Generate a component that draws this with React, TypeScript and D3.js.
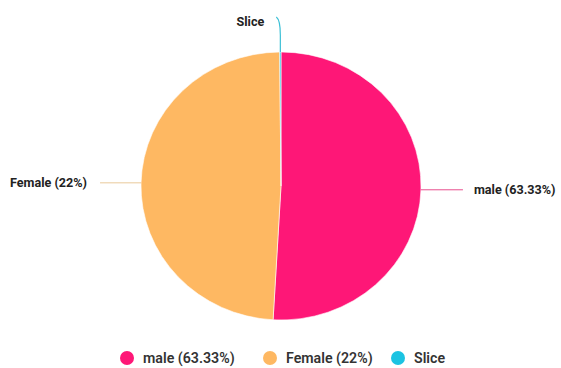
import React from "react";
import * as d3 from "d3";

const categories = ["male (63.33%)", "Female (22%)", "Slice"];
const values = [50.9, 48.95, 0.15];
const colors = ["#fe1777", "#feb862", "#1cc3e2"];
const lineColors = ["#e8508f", "#e9c99a", "#3cc0d6"];

const W = 561;
const H = 368;
const cx = 281;
const cy = 186;
const R = 140;
const sy = 134 / 140;

export default function App() {
  const pie = d3.pie<number>().sort(null).value((d) => d).startAngle(0).endAngle(2 * Math.PI);
  const arcs = pie(values);
  const arc = d3.arc<d3.PieArcDatum<number>>().innerRadius(0).outerRadius(R);

  const pt = (a: number, r: number) => [cx + r * Math.sin(a), cy - r * Math.cos(a) * sy];

  const labelEls = arcs.map((a, i) => {
    const mid = (a.startAngle + a.endAngle) / 2;
    const [x0, y0] = pt(mid, R);
    if (i === 0) {
      return (
        <g key={i}>
          <path d={`M${x0},${y0}L${x0 + 42},${y0}`} stroke={lineColors[i]} fill="none" strokeWidth={1} />
          <text x={x0 + 53} y={y0 + 4.5} fontSize={12.6} fontWeight={700} fill="#222" fontFamily="Roboto, sans-serif">{categories[i]}</text>
        </g>
      );
    } else if (i === 1) {
      return (
        <g key={i}>
          <path d={`M${x0},${y0}L${x0 - 41},${y0}`} stroke={lineColors[i]} fill="none" strokeWidth={1} />
          <text x={x0 - 54} y={y0 + 4.5} textAnchor="end" fontSize={12.6} fontWeight={700} fill="#222" fontFamily="Roboto, sans-serif">{categories[i]}</text>
        </g>
      );
    } else {
      return (
        <g key={i}>
          <path d={`M${x0},${y0}L${x0},${35}Q${x0},${20} ${x0 - 4},${17}`} stroke={lineColors[i]} fill="none" strokeWidth={1.2} />
          <text x={x0 - 16} y={26} textAnchor="end" fontSize={12.6} fontWeight={700} fill="#222" fontFamily="Roboto, sans-serif">{categories[i]}</text>
        </g>
      );
    }
  });

  const legendX = [127, 270, 398];
  const legendY = 358;

  return (
    <svg width={W} height={H} style={{ position: "absolute", left: 0, top: 0, background: "#fff" }}>
      <g transform={`translate(${cx},${cy}) scale(1,${sy})`}>
        {arcs.map((a, i) => (
          <path key={i} d={arc(a) || ""} fill={colors[i]} stroke="#fff" strokeWidth={0.6} />
        ))}
      </g>
      {labelEls}
      {categories.map((c, i) => (
        <g key={c}>
          <circle cx={legendX[i]} cy={legendY} r={7} fill={colors[i]} />
          <text x={legendX[i] + 16} y={legendY + 5} fontSize={14.2} fontWeight={600} fill="#333" fontFamily="Roboto, sans-serif">{c}</text>
        </g>
      ))}
    </svg>
  );
}
